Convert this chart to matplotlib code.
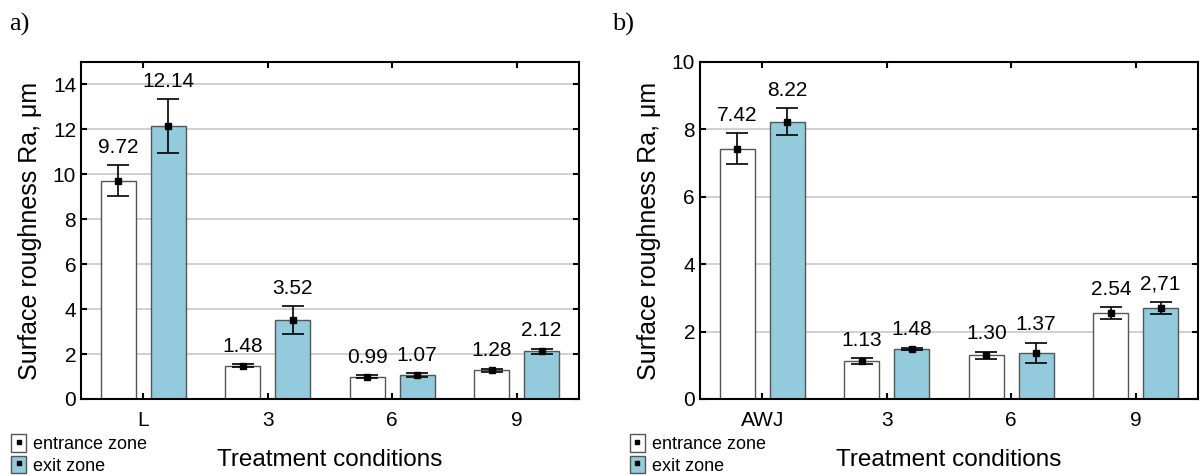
import numpy as np
import matplotlib
matplotlib.use("Agg")
import matplotlib.pyplot as plt
from matplotlib.patches import Patch
from matplotlib.lines import Line2D
from matplotlib.legend_handler import HandlerTuple

plt.rcParams['font.family'] = ['Liberation Sans', 'DejaVu Sans']

# panel a) data
cats_a = ["L", "3", "6", "9"]
entr_a = [9.72, 1.48, 0.99, 1.28]
entr_a_err = [0.69, 0.07, 0.06, 0.07]
exit_a = [12.14, 3.52, 1.07, 2.12]
exit_a_err = [1.20, 0.62, 0.07, 0.12]
lab_entr_a = ["9.72", "1.48", "0.99", "1.28"]
lab_exit_a = ["12.14", "3.52", "1.07", "2.12"]

# panel b) data
cats_b = ["AWJ", "3", "6", "9"]
entr_b = [7.42, 1.13, 1.30, 2.54]
entr_b_err = [0.46, 0.09, 0.10, 0.18]
exit_b = [8.22, 1.48, 1.37, 2.71]
exit_b_err = [0.40, 0.04, 0.30, 0.18]
lab_entr_b = ["7.42", "1.13", "1.30", "2.54"]
lab_exit_b = ["8.22", "1.48", "1.37", "2,71"]

BLUE = "#93cadc"
EDGE = "#555555"


def panel(ax, cats, e, e_err, x, x_err, le, lx, ymax, yticks):
    pos = np.arange(len(cats))
    w = 0.28
    for off, vals, errs, labs, col in [(-0.2, e, e_err, le, "white"),
                                       (0.2, x, x_err, lx, BLUE)]:
        ax.bar(pos + off, vals, w, color=col, edgecolor=EDGE, linewidth=1.0, zorder=2)
        ax.errorbar(pos + off, vals, yerr=errs, fmt='s', color='black', ms=5,
                    ecolor='black', elinewidth=1.2, capsize=8, capthick=1.2, zorder=3)
        for p, v, er, t in zip(pos + off, vals, errs, labs):
            ax.annotate(t, (p, v + er), xytext=(0, 6), textcoords='offset points',
                        ha='center', va='bottom', fontsize=15)
    ax.set_xlim(-0.5, len(cats) - 0.5)
    ax.set_ylim(0, ymax)
    ax.set_yticks(yticks)
    ax.set_xticks(pos)
    ax.set_xticklabels(cats)
    ax.tick_params(axis='both', direction='in', top=True, right=True, labelsize=15,
                   length=4, width=1.5)
    ax.tick_params(axis='x', pad=9)
    ax.yaxis.grid(True, color='#c8c8c8', linewidth=1.2, zorder=0)
    ax.set_axisbelow(True)
    for s in ax.spines.values():
        s.set_linewidth(1.5)
    ax.set_ylabel("Surface roughness Ra, μm", fontsize=18, labelpad=8)
    ax.set_xlabel("Treatment conditions", fontsize=17.5, labelpad=13)

    dot = Line2D([], [], marker='s', color='black', ms=2.5, ls='none')
    h_e = (Patch(facecolor='white', edgecolor=EDGE), dot)
    h_x = (Patch(facecolor=BLUE, edgecolor=EDGE), dot)
    ax.legend([h_e, h_x], ["entrance zone", "exit zone"],
              handler_map={tuple: HandlerTuple(ndivide=1, pad=0)},
              loc='upper left', bbox_to_anchor=(-0.14, -0.105), frameon=False,
              fontsize=13, handlelength=0.8, handleheight=1.1, handletextpad=0.4,
              labelspacing=0.15, borderpad=0, borderaxespad=0)


fig = plt.figure(figsize=(12, 4.75), dpi=100)
ax1 = fig.add_axes([0.0675, 0.16, 0.415, 0.7095])
ax2 = fig.add_axes([0.5833, 0.16, 0.415, 0.7095])

panel(ax1, cats_a, entr_a, entr_a_err, exit_a, exit_a_err, lab_entr_a, lab_exit_a,
      15, [0, 2, 4, 6, 8, 10, 12, 14])
panel(ax2, cats_b, entr_b, entr_b_err, exit_b, exit_b_err, lab_entr_b, lab_exit_b,
      10, [0, 2, 4, 6, 8, 10])

fig.text(0.008, 0.935, "a)", fontsize=19, family=['Liberation Serif', 'DejaVu Serif'])
fig.text(0.51, 0.935, "b)", fontsize=19, family=['Liberation Serif', 'DejaVu Serif'])

fig.savefig("out.png", dpi=100)
